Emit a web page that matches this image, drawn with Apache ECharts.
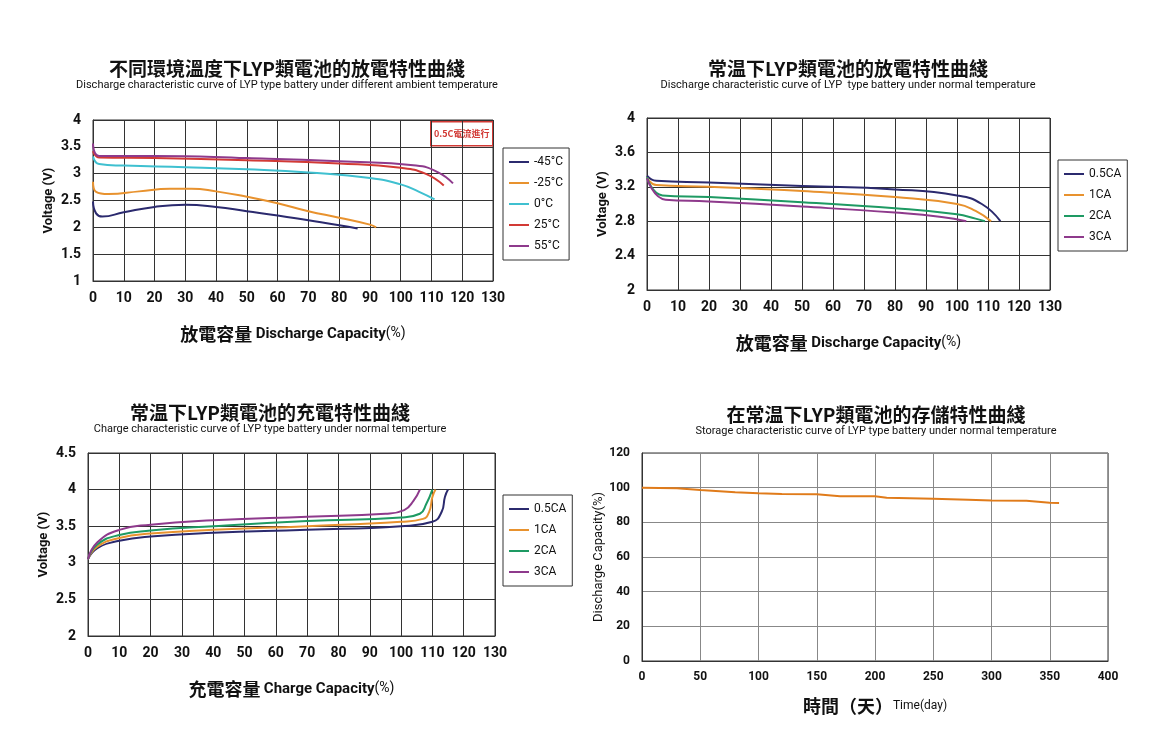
<!DOCTYPE html>
<html><head><meta charset="utf-8">
<script src="https://cdn.jsdelivr.net/npm/echarts@6/dist/echarts.min.js"></script>
<style>html,body{margin:0;background:#fff}#c{width:1160px;height:742px}</style>
</head><body><div id="c"></div>
<script>
// chart 1: ambient temperature discharge
var tempNames = ['-45°C', '-25°C', '0°C', '25°C', '55°C'];
var tempColors = ['#2b2a6e', '#e8922e', '#3fc0d0', '#d23a35', '#8e3a8c'];
var tempData = [
  [[0,2.48],[1,2.26],[3,2.2],[10,2.28],[20,2.38],[30,2.42],[40,2.38],[50,2.3],[60,2.22],[70,2.13],[80,2.04],[86,1.98]],
  [[0,2.85],[1,2.66],[5,2.62],[15,2.67],[25,2.72],[32,2.72],[40,2.67],[50,2.57],[60,2.45],[70,2.3],[80,2.18],[90,2.05],[92,2.0]],
  [[0,3.32],[2,3.18],[10,3.15],[30,3.12],[50,3.08],[70,3.02],[90,2.92],[100,2.8],[106,2.66],[111,2.52]],
  [[0,3.42],[2,3.3],[20,3.29],[50,3.25],[80,3.19],[100,3.11],[108,3.0],[114,2.78]],
  [[0,3.56],[2,3.33],[20,3.33],[50,3.29],[80,3.23],[105,3.15],[112,3.03],[117,2.82]]
];
// chart 2: discharge at different rates
var rateNames = ['0.5CA', '1CA', '2CA', '3CA'];
var rateColors = ['#2b2a6e', '#e8922e', '#1e9a63', '#8e3a8c'];
var dischargeData = [
  [[0,3.33],[3,3.27],[20,3.25],[50,3.21],[80,3.17],[100,3.1],[108,3.0],[114,2.8]],
  [[0,3.31],[3,3.22],[20,3.2],[50,3.15],[80,3.08],[100,3.0],[106,2.92],[111,2.8]],
  [[0,3.31],[5,3.1],[20,3.08],[50,3.02],[80,2.95],[100,2.88],[106,2.83],[109,2.8]],
  [[0,3.3],[6,3.05],[20,3.03],[50,2.97],[80,2.9],[95,2.85],[103,2.8]]
];
// chart 3: charge at different rates
var chargeData = [
  [[0,3.05],[3,3.2],[10,3.3],[20,3.36],[40,3.41],[70,3.45],[100,3.5],[110,3.56],[113,3.7],[114,3.9],[115,4.0]],
  [[0,3.05],[3,3.22],[10,3.34],[20,3.4],[40,3.45],[70,3.5],[100,3.56],[107,3.6],[109,3.7],[110,3.9],[111,4.0]],
  [[0,3.05],[3,3.25],[10,3.38],[20,3.44],[40,3.5],[70,3.57],[100,3.62],[106,3.67],[108,3.8],[110,4.0]],
  [[0,3.05],[3,3.28],[10,3.45],[20,3.52],[40,3.58],[70,3.63],[95,3.67],[101,3.72],[104,3.85],[106,4.0]]
];
// chart 4: storage
var storageData = [[0,100],[30,99.6],[50,98.6],[80,97.4],[100,96.8],[120,96.3],[150,96.2],[170,95],[200,95],[210,94.2],[250,93.6],[280,93.1],[300,92.6],[330,92.4],[350,91.3],[358,91.2]];

var chart = echarts.init(document.getElementById('c'));
var lblFont = {fontFamily: 'Liberation Sans Narrow, Roboto', fontWeight: 'bold', fontSize: 14, color: '#111'};

function grid(l, t, r, b) { return {left: l, top: t, width: r - l, height: b - t, show: true, borderColor: '#333', borderWidth: 1}; }
function xAx(gi, name, max, interval, light) {
  return {
    gridIndex: gi, type: 'value', min: 0, max: max, interval: interval,
    axisLine: {lineStyle: {color: '#333'}}, axisTick: {show: false},
    splitLine: {lineStyle: {color: light ? '#888' : '#333'}},
    axisLabel: Object.assign({margin: 10}, lblFont, light ? {fontSize: 12} : {}),
    name: name, nameLocation: 'middle', nameGap: light ? 36 : 44,
    nameTextStyle: {rich: {
      a: {fontFamily: 'Noto Sans CJK TC', fontWeight: 'bold', fontSize: 18, color: '#111'},
      b: {fontFamily: 'Liberation Sans Narrow, Roboto', fontWeight: 'bold', fontSize: 15, color: '#111'},
      c: {fontFamily: 'Liberation Sans Narrow, Roboto', fontSize: 14, color: '#111'},
      d: {fontFamily: 'Roboto', fontSize: 12, color: '#111'}
    }}
  };
}
function yAx(gi, min, max, interval, name, light) {
  return {
    gridIndex: gi, type: 'value', min: min, max: max, interval: interval,
    axisLine: {lineStyle: {color: '#333'}}, axisTick: {show: false},
    splitLine: {lineStyle: {color: light ? '#888' : '#333'}},
    axisLabel: Object.assign({margin: 12}, lblFont, light ? {fontSize: 12} : {}),
    name: name, nameLocation: 'middle', nameGap: light ? 30 : 38,
    nameTextStyle: light ? {fontFamily: 'Liberation Sans Narrow, Roboto', fontSize: 13, color: '#111'}
                         : {fontFamily: 'Liberation Sans Narrow, Roboto', fontWeight: 'bold', fontSize: 13, color: '#111'}
  };
}
function titleAt(x, y, t, s) {
  return {text: t, subtext: s, left: x, top: y, textAlign: 'center', itemGap: 2, padding: 0,
    textStyle: {fontFamily: 'Noto Sans CJK TC', fontWeight: 'bold', fontSize: 19, color: '#111'},
    subtextStyle: {fontFamily: 'Liberation Sans Narrow, Roboto', fontSize: 11, color: '#111'}};
}
function legendAt(x, y, names, si) {
  return {orient: 'vertical', left: x, top: y, data: names, seriesIndex: si, icon: 'rect', itemWidth: 20, itemHeight: 2,
    itemGap: 9, padding: [8, 6, 8, 6], borderColor: '#333', borderWidth: 1,
    textStyle: {fontFamily: 'Roboto', fontSize: 12, color: '#111'}};
}
var series = [];
function addLines(names, colors, data, gi) {
  names.forEach(function (n, i) {
    series.push({type: 'line', name: n, xAxisIndex: gi, yAxisIndex: gi, data: data[i], smooth: true,
      showSymbol: false, lineStyle: {width: 2, color: colors[i]}, itemStyle: {color: colors[i]}});
  });
}
addLines(tempNames, tempColors, tempData, 0);
addLines(rateNames, rateColors, dischargeData, 1);
addLines(rateNames, rateColors, chargeData, 2);
series.push({type: 'line', name: 'storage', xAxisIndex: 3, yAxisIndex: 3, data: storageData, showSymbol: false,
  lineStyle: {width: 2, color: '#e07b1a'}});

chart.setOption({
  animation: false,
  title: [
    titleAt(287, 59, '不同環境溫度下LYP類電池的放電特性曲綫', 'Discharge characteristic curve of LYP type battery under different ambient temperature'),
    titleAt(848, 59, '常温下LYP類電池的放電特性曲綫', 'Discharge characteristic curve of LYP  type battery under normal temperature'),
    titleAt(270, 403, '常温下LYP類電池的充電特性曲綫', 'Charge characteristic curve of LYP type battery under normal temperture'),
    titleAt(876, 405, '在常温下LYP類電池的存儲特性曲綫', 'Storage characteristic curve of LYP type battery under normal temperature')
  ],
  legend: [
    legendAt(503, 148, tempNames, [0,1,2,3,4]),
    legendAt(1058, 160, rateNames, [5,6,7,8]),
    legendAt(503, 495, rateNames, [9,10,11,12])
  ],
  grid: [grid(93, 120, 493, 281), grid(647, 118, 1050, 290), grid(88, 453, 495, 636), grid(642, 453, 1108, 661)],
  xAxis: [
    xAx(0, '{a|放電容量} {b|Discharge Capacity}{c|(%)}', 130, 10),
    xAx(1, '{a|放電容量} {b|Discharge Capacity}{c|(%)}', 130, 10),
    xAx(2, '{a|充電容量} {b|Charge Capacity}{c|(%)}', 130, 10),
    xAx(3, '{a|時間（天）}{d|Time(day)}', 400, 50, true)
  ],
  yAxis: [
    yAx(0, 1, 4, 0.5, 'Voltage (V)'),
    yAx(1, 2, 4, 0.4, 'Voltage (V)'),
    yAx(2, 2, 4.5, 0.5, 'Voltage (V)'),
    yAx(3, 0, 120, 20, 'Discharge Capacity(%)', true)
  ],
  graphic: [{
    type: 'group', left: 430, top: 121, children: [
      {type: 'rect', shape: {x: 0, y: 0, width: 62, height: 24}, style: {fill: '#fff', stroke: '#d23a35', lineWidth: 1.5}},
      {type: 'text', x: 31, y: 12, style: {text: '0.5C電流進行', fill: '#d23a35', font: 'bold 9px "Noto Sans CJK TC"', align: 'center', verticalAlign: 'middle'}}
    ]
  }],
  series: series
});
</script></body></html>
